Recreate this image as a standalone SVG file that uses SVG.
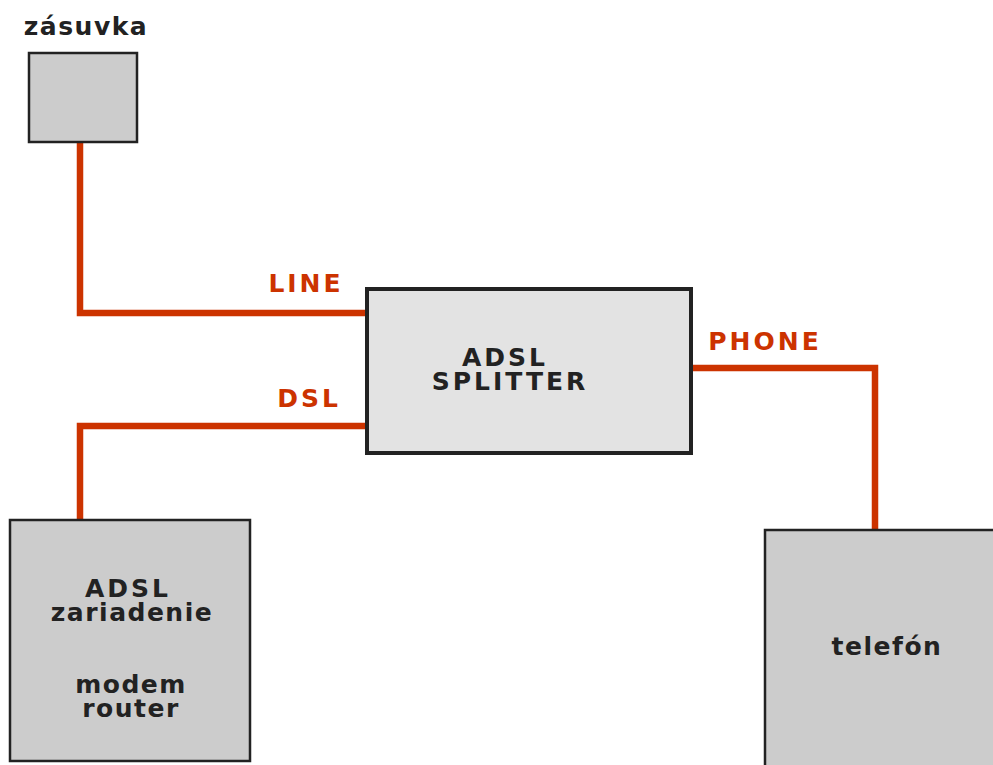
<svg xmlns="http://www.w3.org/2000/svg" width="993" height="765" viewBox="0 0 993 765">
<style>
.box{fill:#cccccc;stroke:#222222;stroke-width:2.5}
.sp{fill:#e3e3e3;stroke:#222222;stroke-width:4}
.wire{fill:none;stroke:#cc3300;stroke-width:6.5;stroke-linejoin:miter}
.t{font-family:"DejaVu Sans",Verdana,sans-serif;font-weight:bold;font-size:25px;fill:#222222;text-anchor:middle;letter-spacing:1.5px}
.c{letter-spacing:3px}
.r{fill:#cc3300}
</style>
<rect width="993" height="765" fill="#ffffff"/>
<g id="connectors">
<polyline class="wire" points="80,143 80,313 366,313"/>
<polyline class="wire" points="366,426 80,426 80,519"/>
<polyline class="wire" points="692,368 875,368 875,529"/>
<text class="t c r" x="306" y="292">LINE</text>
<text class="t c r" x="309" y="407">DSL</text>
<text class="t c r" x="765" y="350">PHONE</text>
</g>
<g id="zasuvka">
<rect class="box" x="29" y="53" width="108" height="89"/>
<text class="t" x="86" y="35">zásuvka</text>
</g>
<g id="splitter">
<rect class="sp" x="367" y="289" width="324" height="164"/>
<text class="t c" x="505" y="366">ADSL</text>
<text class="t c" x="510" y="390">SPLITTER</text>
</g>
<g id="modem">
<rect class="box" x="10" y="520" width="240" height="241"/>
<text class="t c" x="128" y="597">ADSL</text>
<text class="t" x="132" y="621">zariadenie</text>
<text class="t" x="131" y="693">modem</text>
<text class="t" x="131" y="717">router</text>
</g>
<g id="telefon">
<rect class="box" x="765" y="530" width="240" height="250"/>
<text class="t" x="887" y="655">telefón</text>
</g>
</svg>
